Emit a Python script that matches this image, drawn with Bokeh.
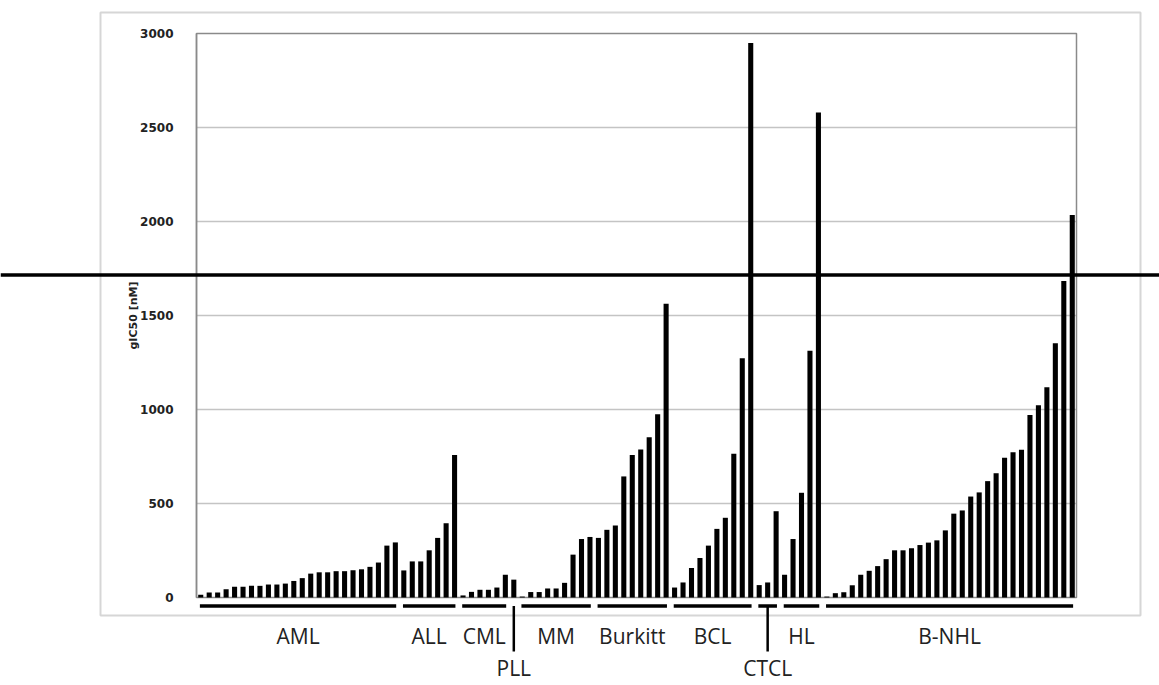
from bokeh.plotting import figure
from bokeh.models import Range1d, LinearAxis, FixedTicker, Span, ColumnDataSource, Label
from bokeh.core.properties import value
from bokeh.embed import file_html
from bokeh.resources import INLINE

# ---------------- data ----------------
groups = ["AML", "ALL", "CML", "PLL", "MM", "Burkitt", "BCL", "CTCL", "HL", "B-NHL"]
AML = [14, 27, 27, 44, 57, 57, 62, 62, 69, 69, 74, 88, 103, 127, 134, 134, 140, 140,
       145, 150, 163, 186, 276, 293]
ALL = [144, 192, 192, 251, 317, 395, 758]
CML = [11, 30, 41, 41, 53, 121]
PLL = [95]
MM = [5, 29, 29, 48, 48, 78, 228, 311, 322]
Burkitt = [317, 360, 383, 644, 758, 787, 853, 975, 1563]
BCL = [53, 80, 157, 210, 276, 365, 424, 765, 1273, 2950]
CTCL = [66, 80, 459]
HL = [121, 311, 557, 1313, 2580]
BNHL = [5, 23, 28, 65, 121, 142, 167, 204, 251, 251, 262, 279, 292, 304, 357, 446,
        463, 537, 559, 619, 661, 744, 773, 786, 971, 1023, 1119, 1352, 1684, 2035]
group_values = [AML, ALL, CML, PLL, MM, Burkitt, BCL, CTCL, HL, BNHL]
label_row = [0, 0, 0, 1, 0, 0, 0, 1, 0, 0]       # PLL and CTCL are on the lower row
y_ticks = [0, 500, 1000, 1500, 2000, 2500, 3000]
threshold = 1715
y_title = "gIC50 [nM]"

values = [v for g in group_values for v in g]
N = len(values)
idx = list(range(N))

# ---------------- geometry (pixels inside the figure) ----------------
W, H = 1159, 684
PA_L, PA_R, PA_T, PA_B = 196, 1076, 33, 597      # plot area
YMAX = y_ticks[-1]
pitch = (PA_R - PA_L) / N
ypp = YMAX / (PA_B - PA_T)


def px_x(px):
    return -0.5 + (px - PA_L) / pitch


def px_y(py):
    return (PA_B - py) * ypp


p = figure(width=W, height=H, output_backend="svg", toolbar_location=None,
           x_axis_type=None, y_axis_type=None, min_border=0,
           x_range=Range1d(px_x(0), px_x(W)), y_range=Range1d(px_y(H), px_y(0)))
p.outline_line_color = None
p.xgrid.visible = False
p.ygrid.visible = False
p.background_fill_color = "white"

# outer chart frame
p.quad(left=px_x(100), right=px_x(1140), bottom=px_y(615), top=px_y(12),
       fill_color=None, line_color="#d6d6d6", line_width=2)

# grid lines inside plot area
p.segment(x0=[-0.5] * (len(y_ticks) - 2), x1=[N - 0.5] * (len(y_ticks) - 2),
          y0=y_ticks[1:-1], y1=y_ticks[1:-1], line_color="#c4c4c4", line_width=1.6)

# plot area border
p.quad(left=-0.5, right=N - 0.5, bottom=0, top=YMAX, fill_color=None,
       line_color="#8a8a8a", line_width=1.5)

# bars
p.vbar(x=idx, top=values, width=0.6, bottom=0, fill_color="black", line_color=None)

# group underlines, ticks and labels
starts, ends, centers = [], [], []
s = 0
for g in group_values:
    starts.append(s)
    ends.append(s + len(g) - 1)
    centers.append(s + (len(g) - 1) / 2)
    s += len(g)

uy = px_y(605.5)
vy = px_y(651)
ux0, ux1, uyy = [], [], []
vx, vy0, vy1 = [], [], []
for name, a, b, c, row in zip(groups, starts, ends, centers, label_row):
    if a != b:
        ux0.append(a - 0.1)
        ux1.append(b + 0.1)
        uyy.append(uy)
    if row == 1:
        vx.append(c)
        vy0.append(uy)
        vy1.append(vy)
p.segment(x0=ux0, x1=ux1, y0=uyy, y1=uyy, line_color="black", line_width=3.5)
p.segment(x0=vx, x1=vx, y0=vy0, y1=vy1, line_color="black", line_width=2.5)

lab_src = ColumnDataSource(dict(
    x=centers, text=groups,
    y=[px_y(635) if r == 0 else px_y(667) for r in label_row]))
p.text(x="x", y="y", text="text", source=lab_src, text_font=value("Open Sans"),
       text_font_size="21px", text_color="#222222", text_align="center",
       text_baseline="middle")

# threshold line across the whole figure
p.add_layout(Span(location=threshold, dimension="width", line_color="black",
                  line_width=3.5))

# y axis
yaxis = LinearAxis(fixed_location=-0.5, bounds=(0, YMAX),
                   ticker=FixedTicker(ticks=y_ticks))
yaxis.axis_line_color = "#8a8a8a"
yaxis.axis_line_width = 1.5
yaxis.major_tick_line_color = None
yaxis.minor_tick_line_color = None
yaxis.major_label_standoff = 17
yaxis.major_label_text_font = "DejaVu Sans"
yaxis.major_label_text_font_style = "bold"
yaxis.major_label_text_font_size = "12px"
yaxis.major_label_text_color = "#222222"
p.add_layout(yaxis, "left")

p.add_layout(Label(x=px_x(133), y=YMAX / 2, text=y_title, angle=1.5708,
                   text_align="center", text_baseline="middle",
                   text_font="DejaVu Sans", text_font_style="bold",
                   text_font_size="11px", text_color="#222222"))

open("out.html", "w").write(file_html(p, INLINE))
